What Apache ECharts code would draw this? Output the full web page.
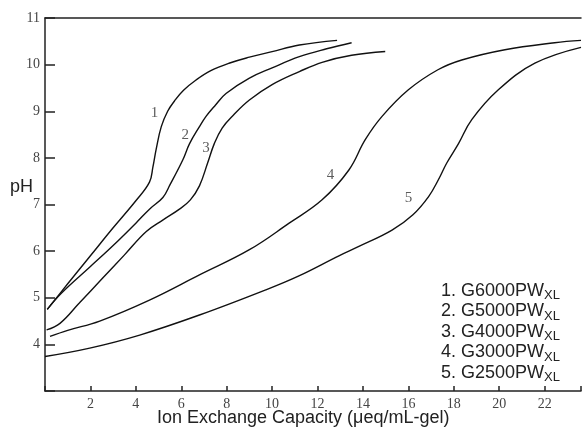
<!DOCTYPE html>
<html>
<head>
<meta charset="utf-8">
<title>pH vs Ion Exchange Capacity</title>
<script src="https://cdn.jsdelivr.net/npm/echarts@6/dist/echarts.min.js"></script>
<style>
html,body{margin:0;padding:0;background:#fff;}
#main{width:584px;height:435px;}
</style>
</head>
<body>
<div id="main"></div>
<script>
// titration curves: [capacity, pH]
var curve1 = [[0.1,4.75],[1,5.3],[2,5.9],[3,6.5],[4,7.08],[4.6,7.48],[4.75,7.8],[4.9,8.2],[5.12,8.67],[5.4,9.0],[5.7,9.22],[6.1,9.45],[6.65,9.67],[7.3,9.87],[8.1,10.03],[9,10.16],[10,10.28],[11.2,10.42],[12.86,10.52]];
var curve2 = [[0.1,4.75],[0.73,5.1],[2,5.67],[3,6.12],[4,6.6],[4.6,6.9],[5.19,7.15],[5.5,7.42],[6.07,7.96],[6.36,8.3],[6.8,8.67],[7.09,8.89],[7.5,9.13],[7.97,9.38],[9,9.71],[10,9.93],[11.2,10.17],[12.4,10.34],[13.5,10.47]];
var curve3 = [[0.07,4.31],[0.66,4.45],[1.5,4.88],[2.5,5.4],[3.5,5.92],[4.46,6.42],[5.2,6.67],[5.92,6.9],[6.4,7.1],[6.8,7.4],[7.16,7.89],[7.45,8.3],[7.8,8.64],[8.3,8.92],[9,9.24],[10,9.57],[11.2,9.85],[12.2,10.05],[13.5,10.2],[14.98,10.28]];
var curve4 = [[0.22,4.17],[1,4.3],[2.41,4.5],[4.6,4.95],[6.8,5.49],[9.0,6.03],[10.75,6.6],[12.2,7.1],[13.38,7.74],[14.1,8.39],[14.84,8.89],[16.0,9.46],[17.3,9.89],[18.35,10.1],[20.25,10.32],[22.44,10.47],[23.6,10.52]];
var curve5 = [[0,3.74],[1.97,3.92],[4.17,4.2],[6.8,4.63],[9.72,5.17],[11.18,5.47],[12.94,5.9],[13.82,6.1],[15.28,6.45],[16.2,6.78],[16.89,7.17],[17.32,7.53],[17.69,7.89],[18.2,8.3],[18.79,8.82],[19.96,9.46],[21.57,10.03],[23.6,10.37]];

// curve numbers written beside the lines
var tagText = ['1','2','3','4','5'];
var tagX = [4.82,6.17,7.09,12.57,16.01];
var tagY = [8.96,8.5,8.22,7.63,7.13];

// key in the lower right
var keyNum = ['1.','2.','3.','4.','5.'];
var keyName = ['G6000PW','G5000PW','G4000PW','G3000PW','G2500PW'];
var keySub = 'XL';

var xTitle = 'Ion Exchange Capacity (\u03bceq/mL-gel)';
var yTitle = 'pH';

$init();

function $init(){
	var myChart = echarts.init(document.getElementById('main'));

	var tags = [];
	for(var i=0;i<tagText.length;i++){
		tags.push({value:[tagX[i],tagY[i]],name:tagText[i]});
	}

	var keyLines = [];
	for(var k=0;k<keyNum.length;k++){
		keyLines.push({
			type:'text',
			left:441,
			top:282+k*20.5,
			style:{
				text:keyNum[k]+' '+keyName[k]+'{s|'+keySub+'}',
				fill:'#222',
				font:'18px "Liberation Sans", Arial, sans-serif',
				rich:{
					s:{fontSize:13,fontFamily:'Liberation Sans',fill:'#222',padding:[9,0,0,0]}
				}
			}
		});
	}

	var lineStyle = {color:'#111',width:1.4};
	var option = {
		backgroundColor:'#fff',
		animation:false,
		grid:{
			left:45,//到左边轴线
			right:0,
			top:18,
			bottom:44
		},
		xAxis:[{
			type:'value',
			min:0,
			max:23.6,
			interval:2,
			axisLine:{show:true,lineStyle:{color:'#222',width:1.5}},
			axisTick:{show:true,inside:true,length:5,lineStyle:{color:'#222',width:1.5}},
			splitLine:{show:false},
			axisLabel:{
				margin:6,
				color:'#444',
				fontFamily:'Liberation Serif',
				fontSize:14,
				formatter:function(v){
					if(v==0 || v%2!=0){return '';}
					return v;
				}
			}
		},{
			type:'value',
			position:'top',
			min:0,
			max:23.6,
			axisLine:{show:true,lineStyle:{color:'#222',width:1.5}},
			axisTick:{show:false},
			axisLabel:{show:false},
			splitLine:{show:false}
		}],
		yAxis:[{
			type:'value',
			min:3,
			max:11,
			interval:1,
			axisLine:{show:true,lineStyle:{color:'#222',width:1.5}},
			axisTick:{show:true,inside:true,length:10,lineStyle:{color:'#222',width:1.5}},
			splitLine:{show:false},
			axisLabel:{
				margin:5,
				color:'#444',
				fontFamily:'Liberation Serif',
				fontSize:14,
				formatter:function(v){
					return v==3 ? '' : v;
				}
			}
		}],
		graphic:[{
			type:'text',
			left:157,
			top:409,
			style:{text:xTitle,fill:'#222',font:'18px "Liberation Sans", Arial, sans-serif'}
		},{
			type:'text',
			left:10,
			top:178,
			style:{text:yTitle,fill:'#222',font:'18px "Liberation Sans", Arial, sans-serif'}
		}].concat(keyLines),
		series:[
			{name:'1',type:'line',data:curve1,smooth:0.4,showSymbol:false,lineStyle:lineStyle},
			{name:'2',type:'line',data:curve2,smooth:0.4,showSymbol:false,lineStyle:lineStyle},
			{name:'3',type:'line',data:curve3,smooth:0.4,showSymbol:false,lineStyle:lineStyle},
			{name:'4',type:'line',data:curve4,smooth:0.4,showSymbol:false,lineStyle:lineStyle},
			{name:'5',type:'line',data:curve5,smooth:0.4,showSymbol:false,lineStyle:lineStyle},
			{
				name:'tags',
				type:'scatter',
				data:tags,
				symbolSize:0,
				label:{
					show:true,
					position:'inside',
					color:'#333',
					fontFamily:'Liberation Serif',
					fontSize:15,
					formatter:function(p){return p.name;}
				}
			}
		]
	};
	myChart.setOption(option);
}
</script>
</body>
</html>
